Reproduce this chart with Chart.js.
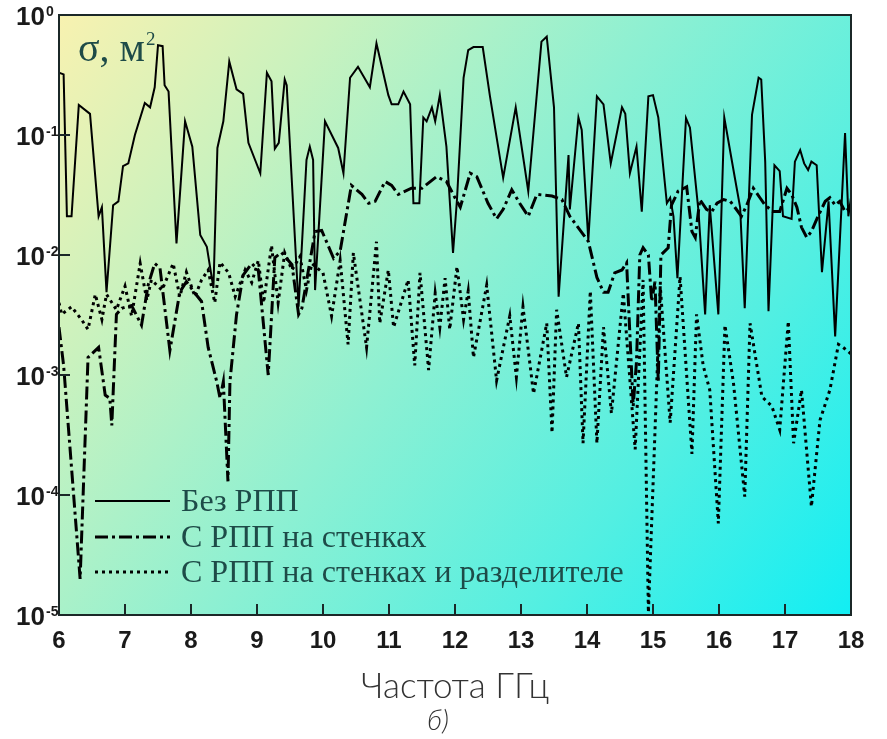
<!DOCTYPE html>
<html>
<head>
<meta charset="utf-8">
<script src="https://cdn.jsdelivr.net/npm/chart.js@4/dist/chart.umd.min.js"></script>
<style>
    body { margin: 0; background: #fff; }
    #wrap { width: 887px; height: 739px; position: relative; }
</style>
</head>
<body>
<div id="wrap"><canvas id="rcsChart"></canvas></div>
<script>
// Без РПП (solid)
const freqBare = [
    6.00, 6.07, 6.12, 6.19, 6.30, 6.47, 6.60, 6.65, 6.72, 6.82,
    6.90, 6.97, 7.05, 7.15, 7.30, 7.38, 7.45, 7.50, 7.57, 7.60,
    7.66, 7.78, 7.91, 8.02, 8.14, 8.24, 8.34, 8.40, 8.49, 8.58,
    8.69, 8.79, 8.87, 9.05, 9.15, 9.22, 9.27, 9.33, 9.42, 9.45,
    9.63, 9.75, 9.80, 9.85, 9.88, 10.03, 10.23, 10.31, 10.41, 10.53,
    10.71, 10.81, 10.86, 10.99, 11.04, 11.14, 11.22, 11.32, 11.37, 11.46,
    11.52, 11.57, 11.65, 11.70, 11.77, 11.87, 11.97, 12.03, 12.13, 12.20,
    12.28, 12.42, 12.53, 12.73, 12.92, 13.11, 13.31, 13.39, 13.50, 13.57,
    13.72, 13.74, 13.87, 13.92, 14.02, 14.15, 14.25, 14.36, 14.53, 14.58,
    14.65, 14.75, 14.83, 14.93, 15.00, 15.08, 15.21, 15.26, 15.31, 15.37,
    15.50, 15.56, 15.69, 15.79, 15.86, 15.99, 16.08, 16.24, 16.32, 16.39,
    16.50, 16.60, 16.64, 16.70, 16.75, 16.84, 16.92, 16.97, 17.10, 17.15,
    17.23, 17.29, 17.35, 17.40, 17.48, 17.56, 17.66, 17.76, 17.86, 17.91,
    17.96, 18.00
];
const sigmaBare = [
    0.33, 0.32, 0.021, 0.021, 0.178, 0.15, 0.021, 0.025, 0.0049, 0.026,
    0.028, 0.055, 0.058, 0.1, 0.185, 0.17, 0.25, 0.56, 0.55, 0.26,
    0.23, 0.0125, 0.13, 0.08, 0.0147, 0.0117, 0.0053, 0.078, 0.13, 0.41,
    0.24, 0.22, 0.086, 0.048, 0.33, 0.28, 0.077, 0.086, 0.29, 0.26,
    0.0037, 0.062, 0.08, 0.062, 0.0051, 0.13, 0.078, 0.048, 0.3, 0.37,
    0.25, 0.58, 0.44, 0.215, 0.18, 0.18, 0.23, 0.18, 0.027, 0.027,
    0.14, 0.13, 0.17, 0.13, 0.215, 0.08, 0.0104, 0.029, 0.3, 0.51,
    0.54, 0.54, 0.21, 0.044, 0.17, 0.034, 0.6, 0.66, 0.17, 0.0045,
    0.068, 0.024, 0.14, 0.11, 0.0133, 0.21, 0.18, 0.058, 0.17, 0.15,
    0.048, 0.08, 0.023, 0.21, 0.215, 0.14, 0.027, 0.03, 0.021, 0.0064,
    0.138, 0.115, 0.023, 0.0032, 0.026, 0.0032, 0.14, 0.044, 0.025, 0.0036,
    0.147, 0.3, 0.29, 0.06, 0.0034, 0.056, 0.05, 0.021, 0.02, 0.06,
    0.075, 0.058, 0.051, 0.06, 0.056, 0.0072, 0.028, 0.0021, 0.028, 0.104,
    0.021, 0.03
];

// С РПП на стенках (dash-dot)
const freqWalls = [
    6.00, 6.07, 6.32, 6.44, 6.60, 6.70, 6.77, 6.80, 6.87, 6.95,
    7.10, 7.25, 7.35, 7.45, 7.53, 7.68, 7.83, 7.93, 8.06, 8.16,
    8.26, 8.39, 8.44, 8.49, 8.56, 8.59, 8.69, 8.79, 8.92, 9.02,
    9.17, 9.27, 9.37, 9.53, 9.63, 9.68, 9.88, 9.98, 10.16, 10.26,
    10.43, 10.59, 10.69, 10.79, 10.94, 11.04, 11.14, 11.34, 11.50, 11.72,
    11.87, 12.00, 12.08, 12.23, 12.33, 12.50, 12.63, 12.73, 12.86, 12.98,
    13.11, 13.24, 13.47, 13.62, 13.74, 13.83, 14.02, 14.15, 14.25, 14.32,
    14.42, 14.53, 14.60, 14.70, 14.75, 14.80, 14.85, 14.93, 14.98, 15.03,
    15.08, 15.12, 15.23, 15.28, 15.38, 15.51, 15.59, 15.64, 15.71, 15.81,
    15.89, 15.97, 16.07, 16.17, 16.24, 16.34, 16.42, 16.52, 16.62, 16.70,
    16.82, 16.92, 17.03, 17.10, 17.18, 17.25, 17.33, 17.40, 17.50, 17.61,
    17.68, 17.76, 17.83, 17.91, 18.00
];
const sigmaWalls = [
    0.0025, 0.0012, 2e-5, 0.0014, 0.0017, 0.00068, 0.00064, 0.00038, 0.0032, 0.0036,
    0.0038, 0.0026, 0.0056, 0.0085, 0.0078, 0.0016, 0.0049, 0.006, 0.0048, 0.0041,
    0.0017, 0.00088, 0.00064, 0.00088, 0.00013, 0.00088, 0.0032, 0.0068, 0.0085, 0.0075,
    0.001, 0.0095, 0.0105, 0.0083, 0.0032, 0.0036, 0.0157, 0.016, 0.0094, 0.0108,
    0.038, 0.032, 0.027, 0.028, 0.041, 0.038, 0.032, 0.036, 0.036, 0.045,
    0.041, 0.03, 0.025, 0.048, 0.045, 0.027, 0.02, 0.024, 0.035, 0.027,
    0.021, 0.032, 0.031, 0.029, 0.021, 0.018, 0.013, 0.0065, 0.0049, 0.0049,
    0.0071, 0.0075, 0.0086, 0.00055, 0.0013, 0.01, 0.0115, 0.01, 0.0041, 0.006,
    0.00088, 0.01, 0.0115, 0.026, 0.034, 0.037, 0.0157, 0.014, 0.029, 0.024,
    0.023, 0.027, 0.029, 0.028, 0.025, 0.021, 0.026, 0.036, 0.03, 0.026,
    0.023, 0.023, 0.036, 0.032, 0.025, 0.017, 0.014, 0.0157, 0.021, 0.028,
    0.03, 0.026, 0.028, 0.023, 0.025
];

// С РПП на стенках и разделителе (dotted)
const freqDivider = [
    6.00, 6.04, 6.19, 6.34, 6.44, 6.55, 6.65, 6.72, 6.87, 7.00,
    7.10, 7.23, 7.33, 7.40, 7.56, 7.73, 7.83, 7.93, 8.06, 8.16,
    8.26, 8.36, 8.44, 8.57, 8.67, 8.82, 8.92, 9.02, 9.10, 9.22,
    9.32, 9.42, 9.53, 9.65, 9.75, 9.83, 10.00, 10.13, 10.26, 10.38,
    10.46, 10.66, 10.81, 10.86, 10.99, 11.07, 11.29, 11.39, 11.47, 11.60,
    11.70, 11.77, 11.85, 11.92, 12.03, 12.13, 12.20, 12.28, 12.48, 12.63,
    12.83, 12.93, 13.03, 13.19, 13.39, 13.47, 13.54, 13.69, 13.87, 13.94,
    14.05, 14.15, 14.25, 14.37, 14.55, 14.73, 14.85, 14.93, 15.11, 15.26,
    15.41, 15.59, 15.66, 15.76, 15.86, 15.99, 16.09, 16.22, 16.39, 16.47,
    16.65, 16.80, 16.92, 17.05, 17.13, 17.25, 17.40, 17.53, 17.68, 17.81,
    17.88, 18.00
];
const sigmaDivider = [
    0.004, 0.0032, 0.0037, 0.0029, 0.0024, 0.0047, 0.0029, 0.0047, 0.0035, 0.0055,
    0.0031, 0.0085, 0.0042, 0.0062, 0.0051, 0.0085, 0.0045, 0.0072, 0.0045, 0.0062,
    0.0075, 0.004, 0.0087, 0.0071, 0.0045, 0.0075, 0.0059, 0.009, 0.004, 0.012,
    0.004, 0.0104, 0.0075, 0.0097, 0.0051, 0.0085, 0.0071, 0.0031, 0.009, 0.0018,
    0.0104, 0.0017, 0.0129, 0.0027, 0.0075, 0.0025, 0.0062, 0.0012, 0.0071, 0.0011,
    0.0048, 0.0025, 0.0064, 0.0024, 0.008, 0.0029, 0.005, 0.0014, 0.0056, 0.0009,
    0.0031, 0.00096, 0.0037, 0.0007, 0.0027, 0.00033, 0.0035, 0.00096, 0.0027, 0.00027,
    0.005, 0.00027, 0.0025, 0.00048, 0.0048, 0.00024, 0.0062, 1.05e-5, 0.0055, 0.0004,
    0.0066, 0.00022, 0.0032, 0.0012, 0.00075, 5.8e-5, 0.0026, 0.00085, 9.7e-5, 0.0027,
    0.00066, 0.00055, 0.00035, 0.0028, 0.00027, 0.00075, 8e-5, 0.00042, 0.00075, 0.0018,
    0.0017, 0.0015
];

const xTicks = [6, 7, 8, 9, 10, 11, 12, 13, 14, 15, 16, 17, 18];
const yTicks = [1e-5, 1e-4, 1e-3, 1e-2, 1e-1, 1];

const TEXT_TEAL = '#1e4b48';
const SERIF = "'Liberation Serif', 'Times New Roman', serif";
const SANS = "'Liberation Sans', Arial, sans-serif";

function toPoints(xs, ys) {
    return xs.map((x, i) => ({ x: x, y: ys[i] }));
}

// background, frame, inward ticks, y labels, legend, captions
const decorPlugin = {
    id: 'decor',
    beforeDraw(chart) {
        const ctx = chart.ctx;
        const a = chart.chartArea;
        const g = ctx.createLinearGradient(a.left, a.top, a.right, a.bottom);
        g.addColorStop(0, '#f8f2b0');
        g.addColorStop(0.22, '#caf2be');
        g.addColorStop(0.48, '#8ef0d2');
        g.addColorStop(0.75, '#52efe2');
        g.addColorStop(1, '#12eef3');
        ctx.save();
        ctx.fillStyle = g;
        ctx.fillRect(a.left, a.top, a.width, a.height);
        ctx.restore();
    },
    afterDraw(chart) {
        const ctx = chart.ctx;
        const a = chart.chartArea;
        const xs = chart.scales.x;
        const ys = chart.scales.y;
        ctx.save();

        // frame
        ctx.strokeStyle = '#1b2828';
        ctx.lineWidth = 2;
        ctx.strokeRect(a.left, a.top, a.width, a.height);

        // inward ticks
        ctx.lineWidth = 2;
        xTicks.forEach(v => {
            const px = Math.round(xs.getPixelForValue(v));
            ctx.beginPath();
            ctx.moveTo(px, a.bottom);
            ctx.lineTo(px, a.bottom - 11);
            ctx.stroke();
        });
        yTicks.forEach(v => {
            const py = Math.round(ys.getPixelForValue(v));
            ctx.beginPath();
            ctx.moveTo(a.left, py);
            ctx.lineTo(a.left + 11, py);
            ctx.stroke();
        });

        // y tick labels 10^n
        ctx.fillStyle = '#1a1a1a';
        yTicks.forEach(v => {
            const py = ys.getPixelForValue(v);
            const exp = Math.round(Math.log10(v));
            ctx.font = 'bold 26px ' + SANS;
            ctx.textAlign = 'right';
            ctx.textBaseline = 'middle';
            ctx.fillText('10', 45, py + 3);
            ctx.font = 'bold 14px ' + SANS;
            ctx.textAlign = 'left';
            ctx.textBaseline = 'top';
            ctx.fillText(exp === 0 ? '0' : String(exp), 46, py - 10);
        });

        // sigma label
        ctx.fillStyle = TEXT_TEAL;
        ctx.textAlign = 'left';
        ctx.textBaseline = 'alphabetic';
        ctx.font = '40px ' + SERIF;
        ctx.fillText('σ, м', 78, 61);
        ctx.font = '19px ' + SERIF;
        ctx.fillText('2', 146, 45);

        // legend
        const rows = [501, 537, 572];
        chart.data.datasets.forEach((ds, i) => {
            const y = rows[i];
            ctx.strokeStyle = '#000';
            ctx.lineWidth = ds.borderWidth;
            ctx.setLineDash(ds.borderDash || []);
            ctx.beginPath();
            ctx.moveTo(95, y);
            ctx.lineTo(170, y);
            ctx.stroke();
            ctx.setLineDash([]);
            ctx.fillStyle = TEXT_TEAL;
            ctx.font = '32px ' + SERIF;
            ctx.textBaseline = 'alphabetic';
            ctx.fillText(ds.label, 181, y + 10);
        });

        // axis caption, squeezed to the reference width
        const caption = 'Частота ГГц';
        ctx.fillStyle = '#333';
        ctx.font = '300 35px Lato, sans-serif';
        const w = ctx.measureText(caption).width;
        ctx.translate((a.left + a.right) / 2, 698);
        ctx.scale(188 / w, 1);
        ctx.textAlign = 'center';
        ctx.fillText(caption, 0, 0);
        ctx.setTransform(1, 0, 0, 1, 0, 0);

        ctx.font = 'italic 300 28px Lato, sans-serif';
        ctx.textAlign = 'center';
        ctx.fillText('б)', 438, 730);

        ctx.restore();
    }
};

const ctx = document.getElementById('rcsChart').getContext('2d');
new Chart(ctx, {
    type: 'line',
    data: {
        datasets: [{
            label: 'Без РПП',
            data: toPoints(freqBare, sigmaBare),
            borderColor: '#000',
            borderWidth: 2,
            borderDash: [],
            pointRadius: 0,
            tension: 0
        }, {
            label: 'С РПП на стенках',
            data: toPoints(freqWalls, sigmaWalls),
            borderColor: '#000',
            borderWidth: 3,
            borderDash: [13, 4, 3, 4],
            pointRadius: 0,
            tension: 0
        }, {
            label: 'С РПП на стенках и разделителе',
            data: toPoints(freqDivider, sigmaDivider),
            borderColor: '#000',
            borderWidth: 3,
            borderDash: [3, 4],
            pointRadius: 0,
            tension: 0
        }]
    },
    options: {
        responsive: true,
        maintainAspectRatio: false,
        animation: false,
        layout: { padding: { left: 0, top: 15, right: 36, bottom: 0 } },
        plugins: {
            legend: { display: false },
            tooltip: { enabled: false }
        },
        scales: {
            x: {
                type: 'linear',
                min: 6,
                max: 18,
                grid: { display: false, drawTicks: false },
                border: { display: false },
                ticks: {
                    stepSize: 1,
                    autoSkip: false,
                    maxRotation: 0,
                    padding: 12,
                    color: '#1a1a1a',
                    font: { family: SANS, weight: 'bold', size: 24 }
                },
                afterFit(scale) { scale.height = 124; }
            },
            y: {
                type: 'logarithmic',
                min: 1e-5,
                max: 1,
                grid: { display: false, drawTicks: false },
                border: { display: false },
                ticks: { display: false },
                afterFit(scale) { scale.width = 59; }
            }
        }
    },
    plugins: [decorPlugin]
});
</script>
</body>
</html>
